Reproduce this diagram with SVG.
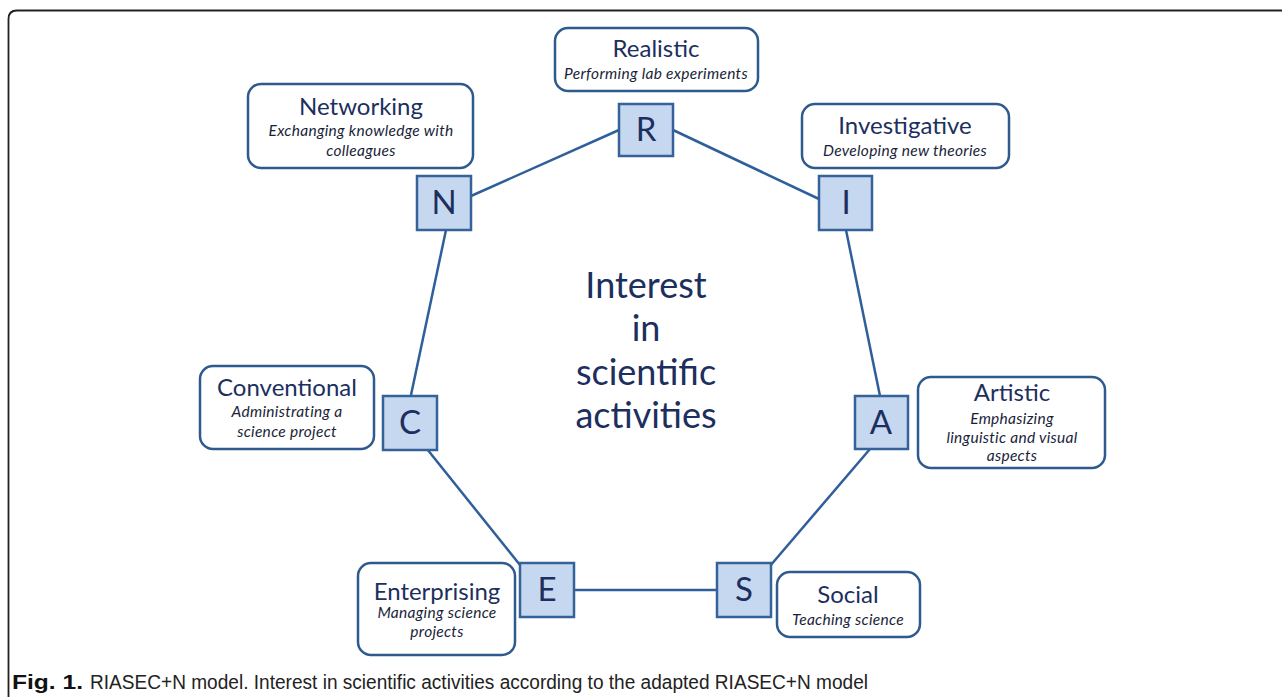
<svg xmlns="http://www.w3.org/2000/svg" width="1282" height="697" viewBox="0 0 1282 697">
<style>
.box{fill:#fff;stroke:#2f5a8e;stroke-width:2.5}
.sq{fill:#c6d8ef;stroke:#36629a;stroke-width:2.5}
.t{font-family:Lato,"Open Sans",sans-serif;font-size:24px;fill:#1c2f5e;text-anchor:middle}
.s{font-family:Lato,"Open Sans",sans-serif;font-size:15.5px;font-style:italic;fill:#1a1f3a;text-anchor:middle;letter-spacing:0.3px}
.L{font-family:Lato,"Open Sans",sans-serif;font-size:33px;fill:#1c2f5e;text-anchor:middle}
.c{font-family:Lato,"Open Sans",sans-serif;font-size:36px;fill:#1c2f5e;text-anchor:middle}
.con line{stroke:#2f5f9a;stroke-width:2.5}
</style>
<rect width="1282" height="697" fill="#fff"/>
<path d="M8.5 697 V19 Q8.5 10.5 17 10.5 H1282" fill="none" stroke="#222" stroke-width="1.8"/>
<g class="con" id="connectors">
<line x1="619" y1="130" x2="471" y2="196"/>
<line x1="673" y1="130" x2="819" y2="199"/>
<line x1="446" y1="230" x2="411" y2="395"/>
<line x1="846" y1="230" x2="880" y2="396"/>
<line x1="427" y1="449" x2="520" y2="565"/>
<line x1="870" y1="449" x2="770" y2="566"/>
<line x1="574" y1="590" x2="717" y2="590"/>
</g>
<g id="R">
<rect class="box" x="555" y="28" width="203" height="63" rx="13"/>
<text class="t" x="656" y="57">Realistic</text>
<text class="s" x="656" y="79">Performing lab experiments</text>
<rect class="sq" x="619" y="104" width="54" height="52"/>
<text class="L" x="646" y="141">R</text>
</g>
<g id="N">
<rect class="box" x="248" y="84" width="225" height="84" rx="13"/>
<text class="t" x="361" y="115">Networking</text>
<text class="s" x="361" y="136">Exchanging knowledge with</text>
<text class="s" x="361" y="156">colleagues</text>
<rect class="sq" x="417" y="176" width="54" height="54"/>
<text class="L" x="444" y="214">N</text>
</g>
<g id="I">
<rect class="box" x="802" y="104" width="207" height="64" rx="13"/>
<text class="t" x="905" y="134">Investigative</text>
<text class="s" x="905" y="156">Developing new theories</text>
<rect class="sq" x="819" y="176" width="53" height="54"/>
<text class="L" x="846" y="214">I</text>
</g>
<g id="C">
<rect class="box" x="200" y="366" width="174" height="83" rx="13"/>
<text class="t" x="287" y="396">Conventional</text>
<text class="s" x="287" y="417">Administrating a</text>
<text class="s" x="287" y="437">science project</text>
<rect class="sq" x="383" y="396" width="54" height="54"/>
<text class="L" x="410" y="434">C</text>
</g>
<g id="A">
<rect class="box" x="918" y="377" width="187" height="91" rx="13"/>
<text class="t" x="1012" y="401">Artistic</text>
<text class="s" x="1012" y="424">Emphasizing</text>
<text class="s" x="1012" y="443">linguistic and visual</text>
<text class="s" x="1012" y="461">aspects</text>
<rect class="sq" x="855" y="396" width="53" height="53"/>
<text class="L" x="881" y="434">A</text>
</g>
<g id="E">
<rect class="box" x="358" y="563" width="157" height="92" rx="13"/>
<text class="t" x="437" y="600">Enterprising</text>
<text class="s" x="437" y="618">Managing science</text>
<text class="s" x="437" y="637">projects</text>
<rect class="sq" x="520" y="563" width="54" height="54"/>
<text class="L" x="547" y="601">E</text>
</g>
<g id="S">
<rect class="box" x="777" y="572" width="143" height="65" rx="13"/>
<text class="t" x="848" y="603">Social</text>
<text class="s" x="848" y="625">Teaching science</text>
<rect class="sq" x="717" y="563" width="54" height="54"/>
<text class="L" x="744" y="601">S</text>
</g>
<g id="center">
<text class="c" x="646" y="298">Interest</text>
<text class="c" x="646" y="341">in</text>
<text class="c" x="646" y="385">scientific</text>
<text class="c" x="646" y="428">activities</text>
</g>
<text x="12" y="689" font-family="'Liberation Sans',Arial,sans-serif" font-size="21" font-weight="bold" fill="#111" textLength="71" lengthAdjust="spacingAndGlyphs">Fig. 1.</text>
<text x="90" y="689" font-family="'Liberation Sans',Arial,sans-serif" font-size="20" fill="#222" textLength="778" lengthAdjust="spacingAndGlyphs">RIASEC+N model. Interest in scientific activities according to the adapted RIASEC+N model</text>
</svg>
